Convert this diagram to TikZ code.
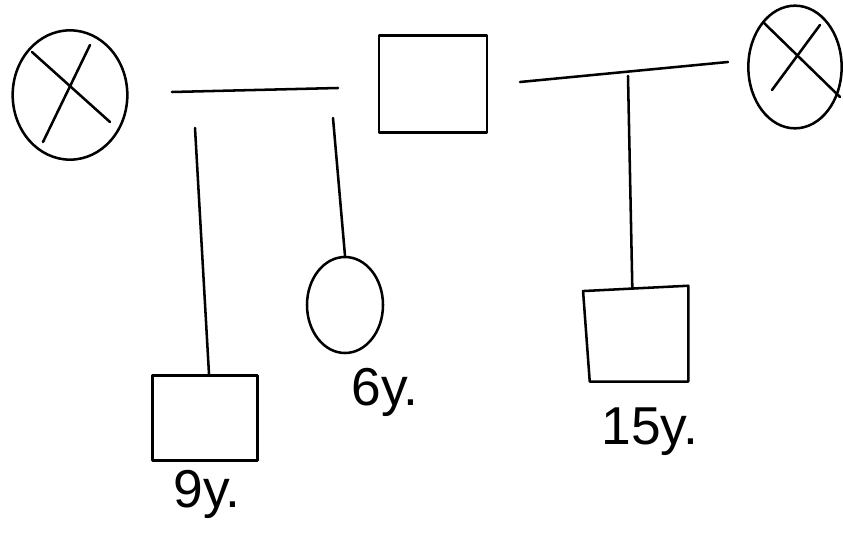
\documentclass[tikz,border=0pt]{standalone}
\usepackage{fontspec}
\setmainfont{Liberation Sans}
\usetikzlibrary{shapes.geometric}
\begin{document}
\begin{tikzpicture}[x=0.75pt,y=-0.75pt, line width=1.9pt, line cap=round, line join=round,
  pers/.style={draw, ellipse, inner sep=0pt, line width=1.9pt},
  male/.style={draw, rectangle, inner sep=0pt, line width=1.9pt},
  lab/.style={font=\fontsize{40}{42}\selectfont, inner sep=0pt}]
\useasboundingbox (0,0) rectangle (843,552);
% top row
\node[pers, minimum width=86pt, minimum height=97pt] (gl) at (70,95) {};
\draw (32,52) -- (110,122);
\draw (90,45) -- (43,142);
\node[male, minimum width=81pt, minimum height=73pt] (f) at (433,84) {};
\node[pers, minimum width=70pt, minimum height=92pt] (gr) at (795,67) {};
\draw (763,22) -- (840,97);
\draw (820,25) -- (772,90);
% marriage lines
\coordinate (l1) at (172,92);
\coordinate (l2) at (338,88);
\draw (l1) -- (l2);
\coordinate (r1) at (520,82);
\coordinate (r2) at (728,62);
\draw (r1) -- (r2);
% children
\node[male, minimum width=79pt, minimum height=64pt] (c1) at (205,418) {};
\node[pers, minimum width=57pt, minimum height=72pt] (c2) at (345,305) {};
\node[rectangle, inner sep=0pt, minimum width=72pt, minimum height=68pt] (c3) at (639,335) {};
\draw ([xshift=-5pt,yshift=-2pt]c3.north west) -- ([yshift=2pt]c3.north east) -- (c3.south east) -- (c3.south west) -- cycle;
% drops
\coordinate (d1) at (195,128);
\draw (d1) -- ([xshift=3pt]c1.north);
\coordinate (d2) at (333,118);
\draw (d2) -- (c2.north);
\coordinate (d3) at (628,76);
\draw (d3) -- ([xshift=-5pt]c3.north);
% labels
\node[lab] (t1) at (207,494) {9y.};
\node[lab] (t2) at (385,392) {6y.};
\node[lab] (t3) at (650,432) {15y.};
\end{tikzpicture}
\end{document}
